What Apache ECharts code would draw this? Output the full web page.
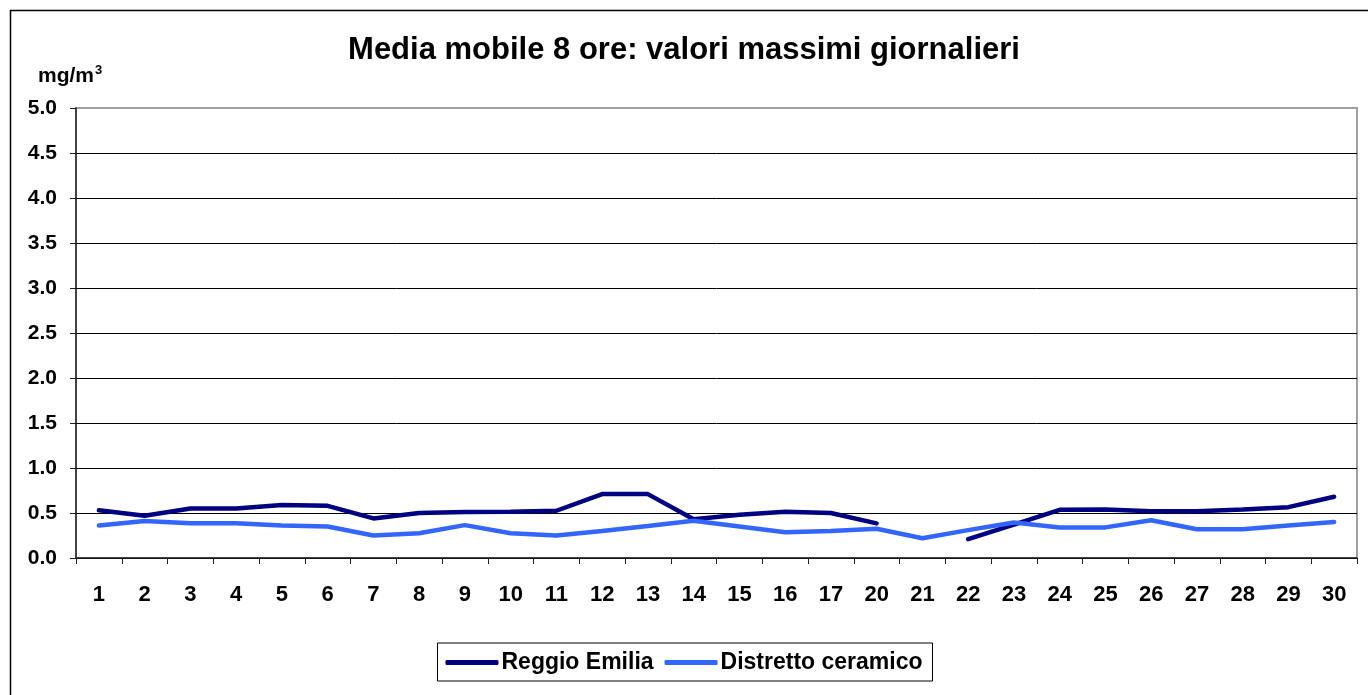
<!DOCTYPE html>
<html>
<head>
<meta charset="utf-8">
<script src="https://cdn.jsdelivr.net/npm/echarts@6/dist/echarts.min.js"></script>
<style>
  html, body { margin: 0; padding: 0; background: #fff; }
  #container { width: 1368px; height: 695px; }
</style>
</head>
<body>
<div id="container"></div>
<script>
// giorni (18 e 19 mancano)
var giorni = ['1','2','3','4','5','6','7','8','9','10','11','12','13','14','15','16','17',
              '20','21','22','23','24','25','26','27','28','29','30'];
// valori massimi giornalieri mg/m3
var reggioEmilia = [0.53,0.47,0.55,0.55,0.59,0.58,0.44,0.50,0.51,0.515,0.525,0.71,0.71,0.43,0.48,0.515,0.50,
                    0.385,null,0.21,0.37,0.535,0.54,0.52,0.52,0.54,0.565,0.68];
var distrettoCeramico = [0.36,0.41,0.385,0.385,0.36,0.35,0.25,0.275,0.365,0.275,0.25,0.30,0.355,0.415,0.35,0.285,0.30,
                         0.325,0.22,0.31,0.395,0.34,0.34,0.42,0.32,0.32,0.36,0.40];
var yTicks = [0,0.5,1,1.5,2,2.5,3,3.5,4,4.5,5];

var dom = document.getElementById("container");
var myChart = echarts.init(dom);

var splitColors = yTicks.map(function (v, i) {
    return i === yTicks.length - 1 ? '#a0a0a0' : '#000';
});

var option = {
    animation: false,
    textStyle: { fontFamily: 'Liberation Sans, Arial, sans-serif' },
    title: {
        text: 'Media mobile 8 ore: valori massimi giornalieri',
        left: 'center',
        top: 30,
        textStyle: { fontSize: 31, fontWeight: 'bold', color: '#000' }
    },
    graphic: [{
        type: 'rect',
        shape: { x: 10.5, y: 10.5, width: 1400, height: 720 },
        style: { fill: 'none', stroke: '#000', lineWidth: 1.5 },
        silent: true
    }, {
        type: 'text',
        left: 38,
        top: 64,
        style: {
            text: '{a|mg/m}{b|3}',
            rich: {
                a: { fontSize: 21, fontWeight: 'bold', fill: '#000', fontFamily: 'Liberation Sans, Arial' },
                b: { fontSize: 13, fontWeight: 'bold', fill: '#000', fontFamily: 'Liberation Sans, Arial', verticalAlign: 'top', padding: [0, 0, 12, 1] }
            }
        }
    }],
    legend: {
        bottom: 14,
        left: 'center',
        data: ['Reggio Emilia', 'Distretto ceramico'],
        icon: 'roundRect',
        itemWidth: 53,
        itemHeight: 5,
        itemGap: 11,
        borderColor: '#000',
        borderWidth: 1,
        padding: [8, 10, 7, 8],
        textStyle: { fontSize: 23, fontWeight: 'bold', color: '#000', padding: [0, 0, 0, -2] }
    },
    grid: {
        left: 76,
        right: 11,
        top: 108,
        bottom: 137,
        show: true,
        borderColor: '#a0a0a0',
        borderWidth: 2,
        containLabel: false
    },
    xAxis: {
        type: 'category',
        data: giorni,
        boundaryGap: true,
        axisLine: { lineStyle: { color: '#222', width: 1.5 } },
        axisTick: { show: true, interval: 0, length: 6, lineStyle: { color: '#222' } },
        axisLabel: { interval: 0, margin: 26, fontSize: 22, fontWeight: 'bold', color: '#000' }
    },
    yAxis: {
        type: 'value',
        min: 0,
        max: 5,
        interval: 0.5,
        axisLine: { show: true, lineStyle: { color: '#222', width: 1.5 } },
        axisTick: { show: true, length: 6, lineStyle: { color: '#222' } },
        axisLabel: {
            margin: 19,
            fontSize: 21,
            fontWeight: 'bold',
            color: '#000',
            formatter: function (v) { return v.toFixed(1); }
        },
        splitLine: { show: true, lineStyle: { color: splitColors, width: 1 } }
    },
    series: [{
        name: 'Reggio Emilia',
        type: 'line',
        data: reggioEmilia,
        showSymbol: false,
        connectNulls: false,
        color: '#000080',
        lineStyle: { width: 4.5, color: '#000080', cap: 'round' }
    }, {
        name: 'Distretto ceramico',
        type: 'line',
        data: distrettoCeramico,
        showSymbol: false,
        color: '#3366ff',
        lineStyle: { width: 4.5, color: '#3366ff', cap: 'round' }
    }]
};

if (option && typeof option === "object") {
    myChart.setOption(option, true);
}
</script>
</body>
</html>
